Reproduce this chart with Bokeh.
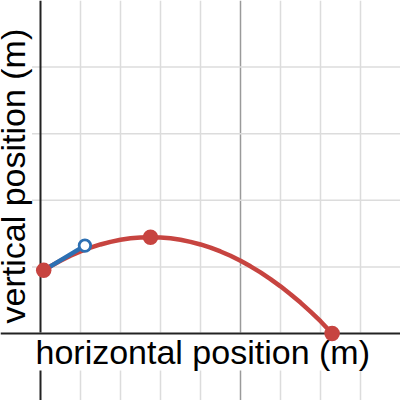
from bokeh.plotting import figure
from bokeh.models import Range1d, Span, Label
from bokeh.embed import file_html
from bokeh.resources import INLINE
import math

# trajectory (x and y in grid units)
curve_x = [0.08, 0.25, 0.5, 0.75, 1.0, 1.25, 1.5, 1.75, 2.0, 2.25, 2.5, 2.75, 3.0, 3.25, 3.5, 3.75,
           4.0, 4.25, 4.5, 4.75, 5.0, 5.25, 5.5, 5.75, 6.0, 6.25, 6.5, 6.75, 7.0, 7.29]
curve_y = [0.948, 1.009, 1.092, 1.167, 1.232, 1.289, 1.337, 1.376, 1.407, 1.429, 1.442, 1.446, 1.442,
           1.429, 1.407, 1.376, 1.337, 1.289, 1.232, 1.167, 1.092, 1.009, 0.918, 0.817, 0.708, 0.590,
           0.464, 0.328, 0.184, 0.0]

# initial velocity segment
vel_x = [0.08, 1.11]
vel_y = [0.948, 1.32]

# key points: launch, peak, landing
pts_x = [0.08, 2.75, 7.29]
pts_y = [0.948, 1.446, 0.0]

# open end of the velocity segment
open_x = [1.11]
open_y = [1.32]

minor_x = [1, 2, 3, 4, 6, 7, 8]
major_x = [5]
minor_y = [1, 2, 3, 4]

x_label = "horizontal position (m)"
y_label = "vertical position (m)"

RED = "#c74440"
BLUE = "#2d70b3"

p = figure(width=400, height=400, output_backend="svg", toolbar_location=None,
           x_range=Range1d(-1.0, 9.0), y_range=Range1d(-1.006, 5.0),
           x_axis_type=None, y_axis_type=None, min_border=0,
           outline_line_color=None, background_fill_color="white")

for v in minor_x:
    p.add_layout(Span(location=v, dimension="height", line_color="#dcdcdc", line_width=1.5, level="underlay"))
for v in major_x:
    p.add_layout(Span(location=v, dimension="height", line_color="#9a9a9a", line_width=1.5, level="underlay"))
for v in minor_y:
    p.add_layout(Span(location=v, dimension="width", line_color="#dcdcdc", line_width=1.5, level="underlay"))

# y axis
p.add_layout(Span(location=0, dimension="height", line_color="#222222", line_width=2, level="underlay"))

# axis titles with white backing
p.add_layout(Label(x=35, y=49, x_units="screen", y_units="screen", text=x_label,
                   text_font="Liberation Sans", text_font_size="34px", text_color="black",
                   text_align="left", text_baseline="alphabetic",
                   background_fill_color="white", level="underlay"))
p.add_layout(Label(x=12.5, y=77, x_units="screen", y_units="screen", text=y_label,
                   angle=math.pi / 2,
                   text_font="Liberation Sans", text_font_size="34px", text_color="black",
                   text_align="left", text_baseline="alphabetic",
                   background_fill_color="white", level="underlay"))

# x axis
p.add_layout(Span(location=0, dimension="width", line_color="#222222", line_width=2, level="underlay"))

p.line(curve_x, curve_y, line_color=RED, line_width=4.5, line_cap="round", line_join="round")
p.line(vel_x, vel_y, line_color=BLUE, line_width=4.5, line_cap="round", line_join="round")
p.scatter(pts_x, pts_y, size=15.5, fill_color=RED, line_color=RED, line_width=0)
p.scatter(open_x, open_y, size=11.5, fill_color="white", line_color=BLUE, line_width=2.8)

open("out.html", "w").write(file_html(p, INLINE))
